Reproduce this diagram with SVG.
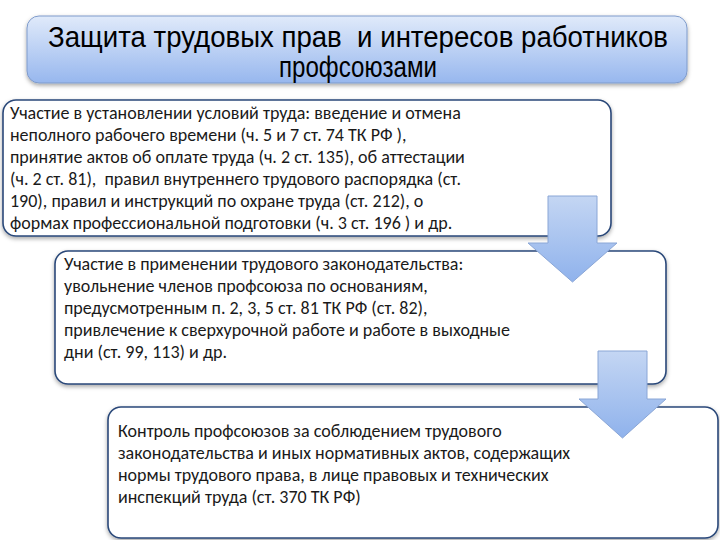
<svg xmlns="http://www.w3.org/2000/svg" width="720" height="540" viewBox="0 0 720 540">
  <defs>
    <linearGradient id="titleGrad" x1="0" y1="0" x2="0" y2="1">
      <stop offset="0" stop-color="#e0eafa"/>
      <stop offset="1" stop-color="#97b7ee"/>
    </linearGradient>
    <linearGradient id="arrowGrad" x1="0" y1="0" x2="0" y2="1">
      <stop offset="0" stop-color="#c4d6f3"/>
      <stop offset="1" stop-color="#8fb2ec"/>
    </linearGradient>
    <filter id="shadow" x="-5%" y="-10%" width="110%" height="130%">
      <feDropShadow dx="0" dy="2" stdDeviation="2" flood-color="#000" flood-opacity="0.35"/>
    </filter>
  </defs>
  <style>
    .title { font-family: "Liberation Sans Narrow", "Liberation Sans", Arial, sans-serif; font-size: 29px; fill: #000; }
    .box { fill: #ffffff; stroke: #2a4879; stroke-width: 1.6; }
    .body { font-family: Carlito, Calibri, "Liberation Sans", Arial, sans-serif; font-size: 18px; fill: #1a1a1a; }
    .arrow { fill: url(#arrowGrad); stroke: #8aa6d6; stroke-width: 1; }
  </style>
  <rect width="720" height="540" fill="#ffffff"/>

  <g id="title">
    <rect x="27" y="16" width="660" height="67" rx="12" ry="12" fill="url(#titleGrad)" stroke="#7f9bcb" stroke-width="1" filter="url(#shadow)"/>
    <text class="title" x="358" y="47" text-anchor="middle" xml:space="preserve" textLength="620" lengthAdjust="spacingAndGlyphs">Защита трудовых прав  и интересов работников</text>
    <text class="title" x="358" y="77" text-anchor="middle" textLength="158" lengthAdjust="spacingAndGlyphs">профсоюзами</text>
  </g>

  <g id="box1">
    <rect class="box" x="3" y="100" width="608" height="136" rx="13" ry="13" filter="url(#shadow)"/>
    <text class="body" xml:space="preserve">
      <tspan x="10" y="119">Участие в установлении условий труда: введение и отмена</tspan>
      <tspan x="10" y="141">неполного рабочего времени (ч. 5 и 7 ст. 74 ТК РФ ),</tspan>
      <tspan x="10" y="163">принятие актов об оплате труда (ч. 2 ст. 135), об аттестации</tspan>
      <tspan x="10" y="185">(ч. 2 ст. 81),  правил внутреннего трудового распорядка (ст.</tspan>
      <tspan x="10" y="207">190), правил и инструкций по охране труда (ст. 212), о</tspan>
      <tspan x="10" y="229">формах профессиональной подготовки (ч. 3 ст. 196 ) и др.</tspan>
    </text>
  </g>

  <g id="box2">
    <rect class="box" x="55" y="251" width="611" height="133" rx="13" ry="13" filter="url(#shadow)"/>
    <text class="body" xml:space="preserve">
      <tspan x="64" y="270">Участие в применении трудового законодательства:</tspan>
      <tspan x="64" y="292">увольнение членов профсоюза по основаниям,</tspan>
      <tspan x="64" y="314">предусмотренным п. 2, 3, 5 ст. 81 ТК РФ (ст. 82),</tspan>
      <tspan x="64" y="336">привлечение к сверхурочной работе и работе в выходные</tspan>
      <tspan x="64" y="358">дни (ст. 99, 113) и др.</tspan>
    </text>
  </g>

  <g id="box3">
    <rect class="box" x="108" y="407" width="610" height="131" rx="13" ry="13" filter="url(#shadow)"/>
    <text class="body" xml:space="preserve">
      <tspan x="118" y="437">Контроль профсоюзов за соблюдением трудового</tspan>
      <tspan x="118" y="459">законодательства и иных нормативных актов, содержащих</tspan>
      <tspan x="118" y="481">нормы трудового права, в лице правовых и технических</tspan>
      <tspan x="118" y="503">инспекций труда (ст. 370 ТК РФ)</tspan>
    </text>
  </g>

  <g id="connectors">
    <path class="arrow" d="M548,196 H597 V243 H617 L572.5,282 L528,243 H548 Z"/>
    <path class="arrow" d="M598,351 H647 V399 H666 L622.5,438 L579,399 H598 Z"/>
  </g>
</svg>
